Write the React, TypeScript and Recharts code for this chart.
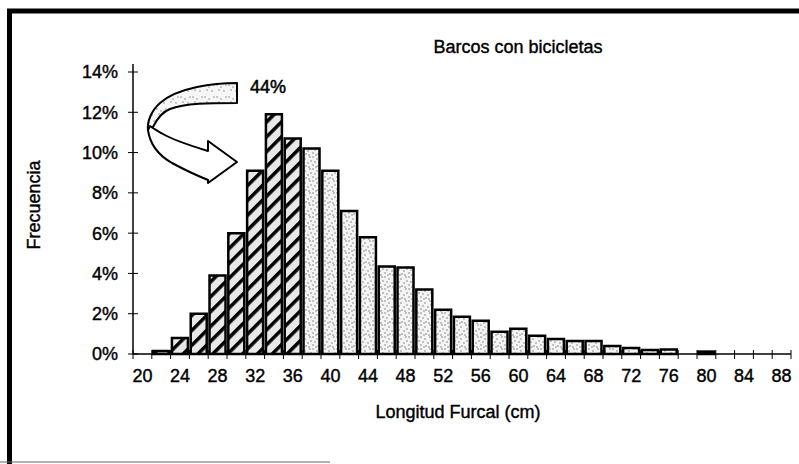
import React from 'react';
import { BarChart, Bar, XAxis, YAxis, Cell } from 'recharts';

const categories = [
  '20', '22', '24', '26', '28', '30', '32', '34', '36', '38', '40', '42',
  '44', '46', '48', '50', '52', '54', '56', '58', '60', '62', '64', '66',
  '68', '70', '72', '74', '76', '78', '80', '82', '84', '86', '88',
];
// frequency in percent
const frequencies = [
  0, 0.15, 0.8, 2.0, 3.9, 6.0, 9.1, 11.9, 10.7, 10.2, 9.1, 7.1,
  5.8, 4.35, 4.3, 3.2, 2.2, 1.85, 1.65, 1.1, 1.25, 0.9, 0.75, 0.65,
  0.65, 0.4, 0.3, 0.2, 0.22, 0, 0.12, 0, 0, 0, 0,
];
const hatchedCategories = ['22', '24', '26', '28', '30', '32', '34', '36'];
const yTicks = [0, 0.02, 0.04, 0.06, 0.08, 0.1, 0.12, 0.14];
const title = 'Barcos con bicicletas';
const annotation = '44%';
const xTitle = 'Longitud Furcal (cm)';
const yTitle = 'Frecuencia';

const data = categories.map((c, i) => ({ cat: c, freq: frequencies[i] / 100 }));

const FONT = '"Liberation Sans", Arial, sans-serif';
const FS = 18;

const YTick = (props: any) => {
  const { x, y, payload } = props;
  return (
    <g>
      <line x1={x - 5} x2={x + 5} y1={y} y2={y} stroke="#000" strokeWidth={1} />
      <text x={x - 15} y={y} dy="0.36em" textAnchor="end" fontFamily={FONT} fontSize={FS} fill="#000" stroke="#000" strokeWidth={0.4}>
        {Math.round(payload.value * 100) + '%'}
      </text>
    </g>
  );
};

const XTick = (props: any) => {
  const { x, y, payload, index } = props;
  const half = payload && payload.offset ? payload.offset : 9.4;
  const last = index === categories.length - 1;
  return (
    <g>
      <line x1={x - half} x2={x - half} y1={y - 4} y2={y + 5} stroke="#000" strokeWidth={1} />
      {last ? <line x1={x + half} x2={x + half} y1={y - 4} y2={y + 5} stroke="#000" strokeWidth={1} /> : null}
      {index % 2 === 0 ? (
        <text x={x} y={y + 28} textAnchor="middle" fontFamily={FONT} fontSize={FS} fill="#000" stroke="#000" strokeWidth={0.4}>
          {payload.value}
        </text>
      ) : null}
    </g>
  );
};

const stippleDots: [number, number][] = [
  [1, 1], [5, 3], [8, 7], [3, 6], [10, 1], [6, 10], [1, 9], [11, 5], [4, 11], [9, 11],
];

export default function App() {
  return (
    <div style={{ position: 'absolute', left: 0, top: 0, width: 799, height: 464, background: '#fff' }}>
      <svg width={0} height={0} style={{ position: 'absolute' }}>
        <defs>
          <pattern id="hatch" patternUnits="userSpaceOnUse" width={10.5} height={10.5} patternTransform="rotate(45)">
            <rect width={10.5} height={10.5} fill="#e8e8e8" />
            <rect x={0} y={0} width={3.5} height={10.5} fill="#000" />
          </pattern>
          <pattern id="stipple" patternUnits="userSpaceOnUse" width={12} height={12}>
            <rect width={12} height={12} fill="#f4f4f4" />
            {stippleDots.map((d, i) => (
              <circle key={i} cx={d[0]} cy={d[1]} r={0.7} fill="#666" />
            ))}
          </pattern>
          <pattern id="stipple2" patternUnits="userSpaceOnUse" width={12} height={12}>
            <rect width={12} height={12} fill="#f6f6f6" />
            {stippleDots.slice(0, 5).map((d, i) => (
              <circle key={i} cx={d[0]} cy={d[1]} r={0.7} fill="#777" />
            ))}
          </pattern>
        </defs>
      </svg>
      <BarChart
        width={799}
        height={464}
        data={data}
        margin={{ top: 72, right: 8, bottom: 0, left: 0 }}
        barCategoryGap="7%"
      >
        <XAxis
          dataKey="cat"
          interval={0}
          height={110}
          tickLine={false}
          tickSize={0}
          tickMargin={0}
          tick={<XTick />}
          axisLine={{ stroke: '#000', strokeWidth: 1.5 }}
          label={{
            content: (p: any) => {
              const vb = p.viewBox || { x: 133, y: 354, width: 658, height: 110 };
              return (
                <text x={vb.x + vb.width / 2 - 4} y={vb.y + 64} textAnchor="middle" fontFamily={FONT} fontSize={FS} fill="#000" stroke="#000" strokeWidth={0.4}>
                  {xTitle}
                </text>
              );
            },
          }}
        />
        <YAxis
          type="number"
          width={133}
          domain={[0, 0.14]}
          ticks={yTicks}
          tickLine={false}
          tickSize={0}
          tickMargin={0}
          tick={<YTick />}
          axisLine={{ stroke: '#000', strokeWidth: 1.5 }}
          label={{
            content: () => (
              <text x={34} y={205} transform="rotate(-90 34 205)" textAnchor="middle" dominantBaseline="central" fontFamily={FONT} fontSize={FS} fill="#000" stroke="#000" strokeWidth={0.4}>
                {yTitle}
              </text>
            ),
          }}
        />
        <Bar dataKey="freq" isAnimationActive={false} stroke="#000" strokeWidth={2.5}>
          {data.map((d) => (
            <Cell key={d.cat} fill={hatchedCategories.includes(d.cat) ? 'url(#hatch)' : 'url(#stipple)'} />
          ))}
        </Bar>
      </BarChart>
      <svg width={799} height={464} style={{ position: 'absolute', left: 0, top: 0, pointerEvents: 'none' }}>
        <line x1={7} x2={799} y1={11} y2={11} stroke="#000" strokeWidth={5} />
        <line x1={9.5} x2={9.5} y1={9} y2={464} stroke="#000" strokeWidth={5} />
        <line x1={0} x2={330} y1={462} y2={462} stroke="#666" strokeWidth={1.2} />
        <line x1={133} x2={133} y1={64} y2={72} stroke="#000" strokeWidth={1.5} />
        <text x={518} y={53} textAnchor="middle" fontFamily={FONT} fontSize={FS} fill="#000" stroke="#000" strokeWidth={0.4}>
          {title}
        </text>
        <path
          d="M237,83 C215,83 178,87 160,103 C151,111 147,122 148,130 L153,127 C157,119 162,112 170,109 C185,103 210,103 237,103 Z"
          fill="url(#stipple2)"
          stroke="#000"
          strokeWidth={2}
          strokeLinejoin="round"
        />
        <path
          d="M148,130 C150,145 158,155 172,163 C185,170 198,176 208,180 L208,183 L237,162 L208,141 L208,151 C195,147 175,141 163,134 C158,131 154,129 150,126 Z"
          fill="#fff"
          stroke="#000"
          strokeWidth={2}
          strokeLinejoin="round"
        />
        <text x={250} y={93} fontFamily={FONT} fontSize={FS} fill="#000" stroke="#000" strokeWidth={0.5}>
          {annotation}
        </text>
      </svg>
    </div>
  );
}
